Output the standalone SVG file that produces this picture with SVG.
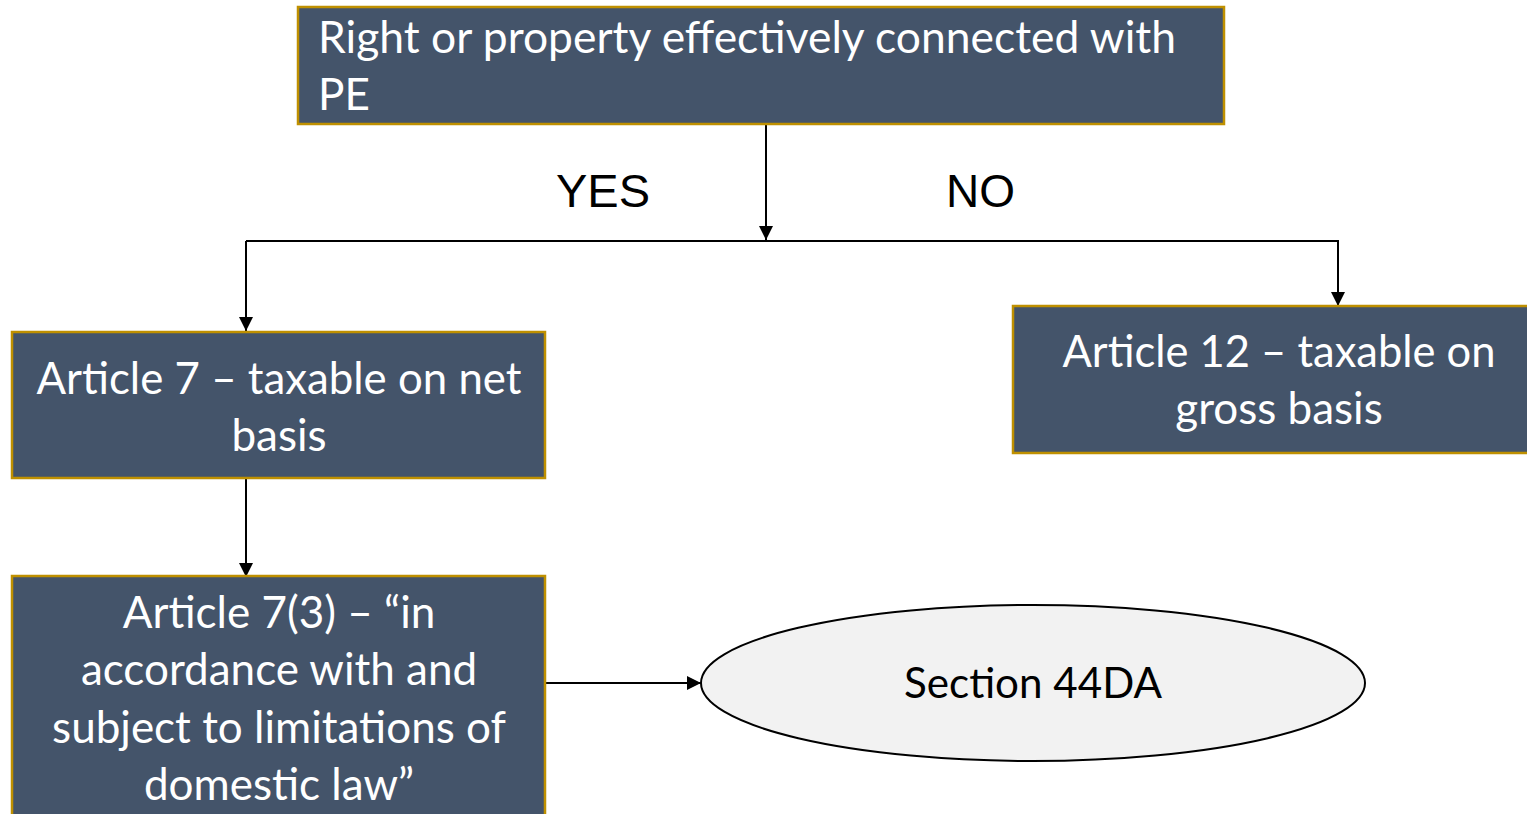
<svg xmlns="http://www.w3.org/2000/svg" width="1527" height="814" viewBox="0 0 1527 814">
<defs>
<style>
.box{fill:#44546A;stroke:#BF9000;stroke-width:2.5}
.t{font-family:Lato,"Open Sans",sans-serif;font-size:44px;fill:#FFFFFF}
.c{text-anchor:middle}
.lbl{font-family:"Liberation Sans",Arial,sans-serif;font-size:46px;fill:#000}
.ln{fill:none;stroke:#000;stroke-width:2}
</style>
<marker id="ah" viewBox="0 0 10 10" refX="10" refY="5" markerWidth="7" markerHeight="7" markerUnits="strokeWidth" orient="auto">
<path d="M0,0 L10,5 L0,10 Z" fill="#000"/>
</marker>
</defs>
<rect width="1527" height="814" fill="#fff"/>
<g id="connectors">
<line class="ln" x1="766" y1="124" x2="766" y2="240" marker-end="url(#ah)"/>
<polyline class="ln" points="246,241 1338,241 1338,306" marker-end="url(#ah)"/>
<line class="ln" x1="246" y1="241" x2="246" y2="331" marker-end="url(#ah)"/>
<line class="ln" x1="246" y1="478" x2="246" y2="577" marker-end="url(#ah)"/>
<line class="ln" x1="545" y1="683" x2="701" y2="683" marker-end="url(#ah)"/>
<text class="lbl" x="556" y="207" textLength="94" lengthAdjust="spacingAndGlyphs">YES</text>
<text class="lbl" x="946" y="207" textLength="69" lengthAdjust="spacingAndGlyphs">NO</text>
</g>
<g id="n-top">
<rect class="box" x="298" y="7" width="926" height="117"/>
<text class="t" x="318" y="53" textLength="858" lengthAdjust="spacingAndGlyphs">Right or property effectively connected with</text>
<text class="t" x="318" y="110">PE</text>
</g>
<g id="n-art7">
<rect class="box" x="12" y="332" width="533" height="146"/>
<text class="t c" x="279" y="394" textLength="485" lengthAdjust="spacingAndGlyphs">Article 7 – taxable on net</text>
<text class="t c" x="279" y="451">basis</text>
</g>
<g id="n-art12">
<rect class="box" x="1013" y="306" width="520" height="147"/>
<text class="t c" x="1279" y="367" textLength="433" lengthAdjust="spacingAndGlyphs">Article 12 – taxable on</text>
<text class="t c" x="1279" y="424">gross basis</text>
</g>
<g id="n-art73">
<rect class="box" x="12" y="576" width="533" height="250"/>
<text class="t c" x="279" y="628">Article 7(3) – “in</text>
<text class="t c" x="279" y="685">accordance with and</text>
<text class="t c" x="279" y="743">subject to limitations of</text>
<text class="t c" x="279" y="800">domestic law”</text>
</g>
<g id="n-s44da">
<ellipse cx="1033" cy="683" rx="332" ry="78" fill="#F2F2F2" stroke="#000" stroke-width="2"/>
<text class="c" x="1033" y="698" font-family="Lato,'Open Sans',sans-serif" font-size="43" fill="#000" textLength="258" lengthAdjust="spacingAndGlyphs">Section 44DA</text>
</g>
</svg>
